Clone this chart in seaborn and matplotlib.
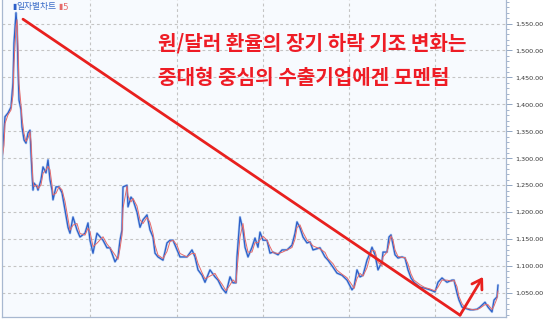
import matplotlib
matplotlib.use("Agg")
import matplotlib.pyplot as plt
from matplotlib import font_manager
import seaborn as sns
import pandas as pd
import numpy as np

# ---- data ----
day = [2, 4, 5, 8, 11, 13, 14, 16, 17, 18, 19, 21, 22, 24, 26, 28, 30, 31, 32, 33,
       34, 37, 38, 41, 43, 46, 48, 50, 52, 53, 56, 59, 62, 65, 68, 70, 73, 77, 80, 85,
       88, 90, 93, 97, 103, 107, 110, 115, 118, 120, 122, 123, 127, 128, 131, 133, 137, 140, 143, 147,
       150, 153, 155, 158, 163, 167, 170, 173, 177, 180, 187, 192, 195, 198, 202, 205, 210, 215, 218, 222,
       226, 230, 233, 236, 237, 240, 243, 245, 248, 252, 255, 258, 260, 263, 267, 270, 273, 278, 282, 287,
       292, 295, 297, 300, 303, 307, 310, 313, 320, 325, 328, 333, 337, 342, 347, 352, 354, 357, 360, 363,
       367, 370, 372, 375, 378, 382, 383, 387, 389, 391, 393, 395, 398, 402, 405, 408, 411, 414, 420, 425,
       430, 435, 438, 442, 447, 452, 454, 457, 459, 462, 465, 470, 473, 477, 480, 485, 488, 492, 494, 497, 498]
rate = [1297, 1352, 1377, 1384, 1395, 1440, 1514, 1570, 1544, 1469, 1408, 1390, 1358, 1334, 1328, 1347, 1352, 1310, 1273, 1241,
        1254, 1247, 1241, 1260, 1284, 1273, 1297, 1260, 1241, 1223, 1247, 1247, 1236, 1204, 1172, 1161, 1191, 1167, 1154, 1161,
        1180, 1148, 1124, 1161, 1148, 1134, 1134, 1108, 1117, 1148, 1167, 1247, 1250, 1210, 1228, 1223, 1200, 1172, 1186, 1195,
        1167, 1154, 1124, 1117, 1111, 1143, 1148, 1148, 1130, 1117, 1117, 1130, 1117, 1093, 1083, 1070, 1093, 1080, 1074, 1059,
        1050, 1080, 1069, 1069, 1117, 1191, 1167, 1135, 1117, 1135, 1152, 1135, 1163, 1148, 1148, 1124, 1126, 1121, 1130, 1130,
        1139, 1161, 1182, 1171, 1154, 1143, 1145, 1130, 1134, 1117, 1111, 1098, 1087, 1083, 1074, 1056, 1061, 1093, 1080, 1083,
        1111, 1124, 1135, 1121, 1093, 1108, 1126, 1126, 1154, 1158, 1139, 1121, 1115, 1117, 1115, 1093, 1078, 1070, 1061, 1059,
        1056, 1052, 1070, 1078, 1070, 1074, 1074, 1050, 1037, 1024, 1022, 1019, 1019, 1020, 1024, 1033, 1024, 1015, 1037, 1043, 1065]

yticks = [1050, 1100, 1150, 1200, 1250, 1300, 1350, 1400, 1450, 1500, 1550]
ytick_labels = [f"{v:,.2f}" for v in yticks]
vgrid_days = [90, 177, 263, 349, 435]

trend_x = [23, 460, 483]
trend_y = [1558, 1009, 1080]

title_lines = ["원/달러 환율의 장기 하락 기조 변화는", "중대형 중심의 수출기업에겐 모멘텀"]
legend_main = "일자별차트"
legend_ma = "5"

# ---- style ----
sns.set_theme(style="white")
plt.rcParams['font.family'] = ['Noto Sans CJK KR', 'DejaVu Sans']


def pick_narrow():
    for name, size in [("Liberation Sans Narrow", 6.2), ("DejaVu Sans Condensed", 5.2)]:
        try:
            font_manager.findfont(font_manager.FontProperties(family=name), fallback_to_default=False)
            return name, size
        except Exception:
            continue
    return "DejaVu Sans", 4.6


tick_family, tick_size = pick_narrow()

df = pd.DataFrame({"day": day, "rate": rate})
df["ma"] = df["rate"].rolling(2, min_periods=1).mean()

fig = plt.figure(figsize=(5.45, 3.21), dpi=100)
fig.patch.set_facecolor("#ffffff")
ax = fig.add_axes([2/545, 4/321, 504/545, 317/321])
ax.set_facecolor("#f7fafe")

ax.set_xlim(2, 506)
ax.set_ylim(1005.6, 1593.6)

# grid
ax.set_yticks(yticks)
ax.set_xticks(vgrid_days)
ax.grid(True, linestyle=(0, (2.5, 2.5)), color="#c4c4c4", linewidth=0.8)
ax.tick_params(axis="x", length=0, labelbottom=False)

# series
sns.lineplot(data=df, x="day", y="rate", ax=ax, color="#b4cdf0", linewidth=1.8, legend=False)
sns.lineplot(data=df, x="day", y="rate", ax=ax, color="#2c5fc8", linewidth=0.9, legend=False)
sns.lineplot(data=df, x="day", y="ma", ax=ax, color="#e66a6a", linewidth=0.7, legend=False)

# trend annotation
ax.plot(trend_x[:2], trend_y[:2], color="#e8201e", linewidth=2.0, solid_capstyle="round", zorder=5)
ax.annotate("", xy=(trend_x[2], trend_y[2]), xytext=(trend_x[1], trend_y[1]),
            arrowprops=dict(arrowstyle="->,head_length=0.55,head_width=0.35",
                            color="#e8201e", lw=2.0, shrinkA=0, shrinkB=0), zorder=6)

# title text
fig.text(158/545, 1 - 43/321, title_lines[0], color="#ee1c25", fontsize=14.5,
         fontweight="bold", va="center", ha="left")
fig.text(158/545, 1 - 77/321, title_lines[1], color="#ee1c25", fontsize=14.5,
         fontweight="bold", va="center", ha="left")

# legend
fig.text(12/545, 1 - 7/321, "▮", color="#2c5fc8", fontsize=5.5, va="center", ha="left",
         family=['DejaVu Sans'])
fig.text(16/545, 1 - 7/321, legend_main, color="#3a6cc8", fontsize=6.3, va="center", ha="left")
fig.text(58/545, 1 - 7/321, "▮", color="#e66a6a", fontsize=5.5, va="center", ha="left",
         family=['DejaVu Sans'])
fig.text(62/545, 1 - 7/321, legend_ma, color="#e66a6a", fontsize=6.3, va="center", ha="left",
         family=['DejaVu Sans'])

# right axis labels
ax.yaxis.tick_right()
ax.set_yticklabels(ytick_labels, family=[tick_family, 'DejaVu Sans'])
ax.tick_params(axis="y", which="major", length=4, width=0.6, color="#7f96b8",
               labelsize=tick_size, labelcolor="#333333", pad=2.5, right=True, left=False)
ax.set_yticks(np.arange(1010, 1591, 10), minor=True)
ax.tick_params(axis="y", which="minor", length=2, width=0.5, color="#7f96b8", right=True, left=False)
ax.set_xlabel("")
ax.set_ylabel("")

for side in ["left", "right", "bottom"]:
    ax.spines[side].set_color("#a8b8d0")
    ax.spines[side].set_linewidth(0.9)
ax.spines["top"].set_visible(False)

fig.savefig("out.png", dpi=100)
